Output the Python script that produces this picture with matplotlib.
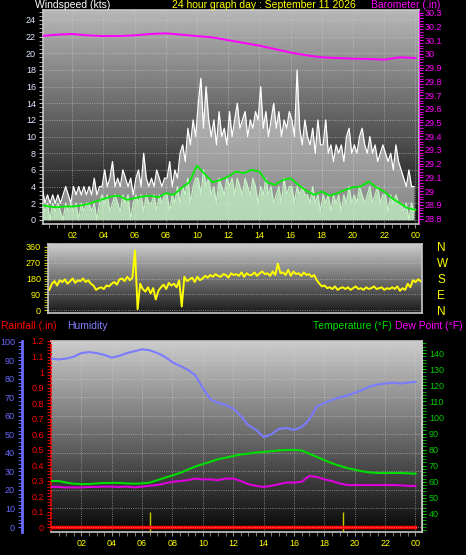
import numpy as np
import matplotlib
matplotlib.use('Agg')
import matplotlib.pyplot as plt

plt.rcParams['font.family'] = ['Liberation Sans', 'DejaVu Sans']

# ---- data ----
# wind, 10 minute steps (kts)
gust = [4, 2, 3, 2, 3, 2,  3, 2, 3, 4, 3, 2,  4, 3, 4, 3, 4, 3,  4, 3, 5, 3, 4, 4,
        6, 4, 5, 7, 4, 5,  4, 6, 5, 4, 5, 3,  5, 6, 4, 8, 5, 4,  5, 4, 6, 5, 4, 5,
        5, 7, 4, 6, 5, 8,  9, 7, 11, 9, 12, 10,  14, 17, 11, 16, 12, 10,  12, 9, 13, 10, 11, 9,
        13, 10, 12, 14, 11, 12,  13, 10, 12, 11, 13, 12,  16, 11, 13, 10, 12, 14,  11, 13, 10, 12, 11, 13,
        12, 10, 18, 11, 9, 12,  10, 9, 11, 8, 12, 9,  9, 12, 8, 9, 7, 9,  8, 9, 7, 10, 11, 8,
        9, 8, 10, 11, 9, 8,  10, 8, 9, 7, 8, 9,  8, 7, 8, 6, 9, 7,  6, 5, 4, 6, 4, 4]
wind = [2, 1, 2, 0, 2, 1,  2, 1, 0, 2, 1, 2,  1, 2, 0, 2, 1, 2,  2, 1, 2, 0, 2, 3,
        2, 3, 1, 2, 3, 2,  1, 3, 2, 3, 0, 2,  3, 2, 3, 1, 3, 2,  2, 3, 1, 3, 2, 3,
        3, 1, 3, 2, 4, 2,  4, 3, 5, 2, 4, 5,  5, 3, 6, 4, 5, 3,  4, 2, 5, 4, 3, 5,
        4, 5, 3, 5, 4, 3,  5, 4, 3, 5, 4, 2,  4, 3, 5, 3, 4, 2,  3, 4, 2, 5, 3, 4,
        4, 2, 4, 3, 4, 3,  3, 2, 4, 2, 3, 1,  3, 2, 3, 1, 3, 2,  3, 1, 3, 2, 4, 2,
        3, 2, 4, 3, 2, 3,  4, 2, 3, 4, 2, 3,  3, 1, 3, 2, 3, 2,  2, 1, 2, 0, 2, 1]
# averaged wind, 30 minute steps
wind_avg = [1.8, 1.6, 1.5, 1.6, 1.6, 1.7, 1.9, 2.2, 2.5, 2.8, 2.9, 2.4, 2.6, 2.8, 2.9, 2.7,
            3.2, 3.0, 3.8, 4.5, 6.5, 5.5, 4.5, 4.8, 5.2, 5.8, 5.6, 6.0, 5.8, 4.5, 4.2, 4.8,
            5.0, 4.2, 3.5, 3.0, 3.4, 2.9, 3.2, 3.6, 3.9, 4.0, 4.6, 3.9, 3.4, 2.6, 2.0, 1.4, 1.2]
# wind direction, 10 minute steps (deg)
direction = [115, 150, 165, 140, 170, 160,  175, 150, 165, 180, 155, 170,  165, 180, 160, 170, 150, 140,
             115, 125, 130, 120, 140, 135,  150, 160, 145, 175, 180, 165,  190, 170, 185, 340, 5, 150,
             120, 105, 130, 95, 125, 60,  110, 130, 145, 120, 155, 140,  150, 130, 170, 20, 190, 165,
             175, 185, 160, 190, 170, 180,  195, 185, 200, 190, 205, 195,  190, 205, 200, 185, 210, 200,
             205, 195, 215, 190, 210, 200,  200, 215, 195, 210, 220, 205,  210, 195, 220, 200, 265, 210,
             215, 200, 230, 195, 220, 205,  210, 195, 215, 200, 205, 190,  200, 170, 150, 135, 140, 125,
             130, 120, 135, 115, 125, 130,  120, 130, 115, 125, 135, 120,  125, 115, 130, 120, 125, 135,
             120, 125, 130, 115, 125, 120,  130, 120, 135, 110, 125, 115,  150, 130, 170, 160, 175, 165]
# barometer, hourly (in)
baro = [30.13, 30.14, 30.145, 30.135, 30.13, 30.13, 30.135, 30.145, 30.15, 30.14, 30.13, 30.12,
        30.10, 30.08, 30.06, 30.035, 30.01, 29.99, 29.975, 29.97, 29.965, 29.963, 29.958, 29.975, 29.97]
# 30 minute steps
humidity = [91, 90.5, 91, 92, 94, 94.5, 94, 93, 91.5, 92.5, 94, 95, 96, 95.5, 94, 92, 89, 87,
            85, 82, 75, 69, 67, 66, 64, 60, 55, 52.5, 48.6, 50, 53, 53.5, 52.4, 54, 58, 65,
            67, 68.6, 70, 71, 72.5, 74, 76, 77, 77.5, 78, 77.5, 78, 78.4]
temperature = [60.5, 60.5, 59.5, 58.8, 58.6, 58.6, 59, 59.3, 59.3, 59.3, 59, 58.8, 59, 59.5, 61, 62.5,
               64, 65.5, 67.5, 69.5, 71, 72.5, 74, 75, 76, 77, 77.5, 78.2, 78.5, 79, 79.5, 79.8,
               79.8, 79.5, 77.5, 75.5, 73.5, 71.5, 70, 68.5, 67.5, 66.5, 65.8, 65.5, 65.5, 65.5, 65.5, 65.3, 65]
dew_point = [56.8, 56.8, 56.5, 56.5, 56.5, 56.8, 56.8, 57, 57, 56.8, 57, 56.5, 57, 57.5, 58, 59,
             60, 60.5, 61, 62, 61.5, 61.5, 61, 62, 62, 60.5, 58.5, 57.5, 56.8, 57.5, 58.5, 59.5,
             59.5, 60, 63.6, 63, 61.5, 60.5, 59, 58, 58, 58, 58, 58, 58, 58, 57.8, 57.5, 57.4]
rainfall = [0.0] * 25
sun_marks = [6.5, 19.2]

hour_labels = ['02', '04', '06', '08', '10', '12', '14', '16', '18', '20', '22', '00']
dir_labels = ['N', 'W', 'S', 'E', 'N']

t10 = np.arange(len(gust)) / 6 + 1 / 12
t30 = np.arange(len(humidity)) * 0.5
t1 = np.arange(len(baro))

W, H = 466, 555
fig = plt.figure(figsize=(W / 100, H / 100), dpi=100, facecolor='black')


def box(l, t, r, b):
    return [l / W, 1 - b / H, (r - l) / W, (b - t) / H]


def gradient(ax, lo, hi, ext):
    g = np.linspace(lo, hi, 256).reshape(-1, 1)
    ax.imshow(g, extent=ext, origin='lower', aspect='auto', cmap='gray', vmin=0, vmax=1, zorder=0)


def frame(ax):
    for s in ax.spines.values():
        s.set_color('#c8c8c8')
        s.set_linewidth(1.2)


hours = list(range(2, 25, 2))
grid_kw = dict(color='#d0d0d0', ls=':', lw=0.6, alpha=0.7)

# ---- windspeed / barometer ----
ax1 = fig.add_axes(box(43, 10, 419, 224))
gradient(ax1, 0.05, 0.72, [0.13, 24.23, -0.5, 25.2])
ax1.fill_between(t10, wind, gust, color='white', alpha=0.5, lw=0, zorder=2)
ax1.plot(t10, gust, color='white', lw=0.9, zorder=3)
ax1.fill_between(t10, 0, wind, color='#c8f0c8', alpha=0.9, lw=0, zorder=4)
ax1.plot(t10, wind, color='#c8f0c8', lw=0.9, zorder=4)
ax1.plot(t30, wind_avg, color='#00ee00', lw=1.3, zorder=5)
ax1.set_xlim(0.13, 24.23)
ax1.set_ylim(-0.5, 25.2)
ax1.set_yticks(range(0, 25, 2))
ax1.set_yticks(np.arange(0, 25.1, 0.5), minor=True)
ax1.set_xticks(hours)
ax1.set_xticklabels(hour_labels)
ax1.set_xticks(np.arange(0.5, 24.1, 0.5), minor=True)
ax1.tick_params(axis='y', which='both', colors='#c0c0c0', labelcolor='#dde6ff', labelsize=6.5, length=3, pad=2)
ax1.tick_params(axis='x', which='both', colors='#909090', labelcolor='yellow', labelsize=6.5, length=3, pad=2)
ax1.grid(True, which='major', **grid_kw)
frame(ax1)

ax1b = ax1.twinx()
ax1b.plot(t1, baro, color='#ff00ff', lw=1.4)
ax1b.set_ylim(28.76, 30.32)
bt = np.round(np.arange(28.8, 30.31, 0.1), 1)
ax1b.set_yticks(bt)
ax1b.set_yticklabels([f'{v:g}' for v in bt])
ax1b.set_yticks(np.arange(28.8, 30.31, 0.02), minor=True)
ax1b.tick_params(axis='y', which='both', colors='#ff00ff', labelsize=6.5, length=3, pad=1)
for s in ['left', 'top', 'bottom']:
    ax1b.spines[s].set_visible(False)
ax1b.spines['right'].set_color('#ff00ff')
ax1b.spines['right'].set_linestyle(':')

# ---- wind direction ----
ax2 = fig.add_axes(box(48, 244, 422, 313))
gradient(ax2, 0.1, 0.8, [0, 24, -17, 377])
ax2.plot(t10, direction, color='yellow', lw=1.4)
ax2.set_xlim(0, 24)
ax2.set_ylim(-17, 377)
ax2.set_yticks([0, 90, 180, 270, 360])
ax2.set_yticks(np.arange(0, 361, 15), minor=True)
ax2.set_xticks([])
ax2.tick_params(axis='y', which='both', colors='#c8c800', labelcolor='yellow', labelsize=6.5, length=3, pad=2)
ax2.grid(True, axis='y', **grid_kw)
frame(ax2)
ax2b = ax2.twinx()
ax2b.set_ylim(-17, 377)
ax2b.set_yticks([360, 270, 180, 90, 0])
ax2b.set_yticklabels(dir_labels)
ax2b.tick_params(axis='y', length=0, labelcolor='yellow', labelsize=8.5, pad=11)
for s in ax2b.spines.values():
    s.set_visible(False)

# ---- rainfall / humidity / temperature ----
ax3 = fig.add_axes(box(51, 341, 422, 532))
gradient(ax3, 0.03, 0.8, [0, 24.43, -0.032, 1.196])
ax3.vlines(sun_marks, -0.032, 0.1, color='#c8c800', lw=1, zorder=3)
ax3.plot(t1, rainfall, color='red', lw=2.5, zorder=4)
ax3.set_xlim(0, 24.43)
ax3.set_ylim(-0.032, 1.196)
rt = np.round(np.arange(0, 1.21, 0.1), 1)
ax3.set_yticks(rt)
ax3.set_yticklabels([f'{v:g}' for v in rt])
ax3.set_yticks(np.arange(0, 1.21, 0.02), minor=True)
ax3.set_xticks(hours)
ax3.set_xticklabels(hour_labels)
ax3.set_xticks(np.arange(0.5, 24.1, 0.5), minor=True)
ax3.tick_params(axis='y', which='both', colors='red', labelsize=6.5, length=3, pad=2)
ax3.tick_params(axis='x', which='both', colors='#909090', labelcolor='yellow', labelsize=6.5, length=3, pad=2)
ax3.grid(True, axis='x', **grid_kw)
frame(ax3)
ax3.spines['left'].set_color('red')
ax3.spines['left'].set_linestyle(':')

ax3h = ax3.twinx()
ax3h.yaxis.tick_left()
ax3h.spines['left'].set_position(('outward', 21))
ax3h.spines['left'].set_visible(True)
ax3h.spines['left'].set_color('#6a6aff')
ax3h.spines['left'].set_linewidth(2)
for s in ['right', 'top', 'bottom']:
    ax3h.spines[s].set_visible(False)
ax3h.plot(t30, humidity, color='#7b7bff', lw=1.5)
ax3h.set_ylim(-2.7, 100.5)
ax3h.set_yticks(range(0, 101, 10))
ax3h.set_yticks(range(0, 101, 2), minor=True)
ax3h.tick_params(axis='y', which='both', colors='#6a6aff', labelsize=6.5, length=3, pad=2)
ax3h.grid(True, axis='y', **grid_kw)

ax3t = ax3.twinx()
ax3t.plot(t30, temperature, color='#00dd00', lw=1.5)
ax3t.plot(t30, dew_point, color='#dd00dd', lw=1.5)
ax3t.set_ylim(28.8, 147.5)
ax3t.set_yticks(range(40, 141, 10))
ax3t.set_yticks(range(30, 147, 2), minor=True)
ax3t.tick_params(axis='y', which='both', colors='#00cc00', labelsize=6.5, length=3, pad=2)
for s in ['left', 'top', 'bottom']:
    ax3t.spines[s].set_visible(False)
ax3t.spines['right'].set_color('#c8c8c8')

# ---- header texts ----
def label(x, y, s, c):
    fig.text(x / W, 1 - y / H, s, color=c, fontsize=7.5, ha='left', va='center')


label(35, 5, 'Windspeed (kts)', 'white')
label(172, 5, '24 hour graph day : September 11 2026', 'yellow')
label(371, 5, 'Barometer (.in)', '#ff00ff')
label(1, 326, 'Rainfall (.in)', 'red')
label(67, 326, 'Humidity', '#8080ff')
label(313, 326, 'Temperature (°F)', '#00e000')
label(395, 326, 'Dew Point (°F)', '#ff00ff')

fig.savefig('out.png', dpi=100, facecolor='black')
